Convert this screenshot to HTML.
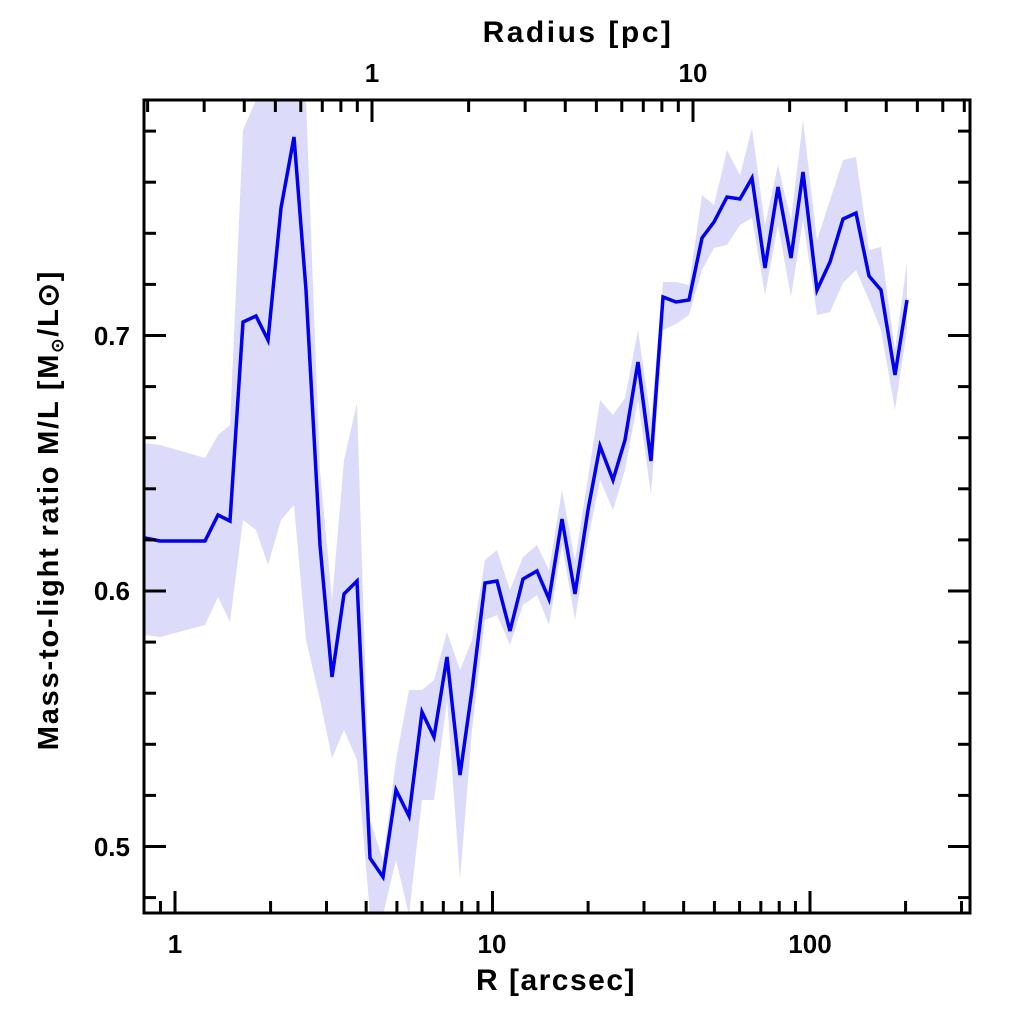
<!DOCTYPE html>
<html><head><meta charset="utf-8"><style>html,body{margin:0;padding:0;background:#fff}svg{display:block}</style></head>
<body>
<svg id="s" width="1024" height="1024" xmlns="http://www.w3.org/2000/svg" font-family="Liberation Sans, sans-serif" font-weight="bold">
<defs><clipPath id="c"><rect x="144" y="100" width="826" height="813"/></clipPath></defs>
<g id="plot" clip-path="url(#c)"></g>
<g id="ax" stroke="#000" stroke-width="3" fill="none"></g>
<rect x="144" y="100" width="826" height="813" fill="none" stroke="#000" stroke-width="3"/>
<g font-size="26" fill="#000" text-anchor="middle">
<text x="175" y="953">1</text>
<text x="492" y="953">10</text>
<text x="810" y="953">100</text>
<text x="556" y="990" font-size="30" letter-spacing="1.5">R [arcsec]</text>
<text x="372" y="82">1</text>
<text x="693" y="82">10</text>
<text x="578" y="42" font-size="30" letter-spacing="2.5">Radius [pc]</text>
<text x="130" y="345" text-anchor="end">0.7</text>
<text x="130" y="600" text-anchor="end">0.6</text>
<text x="130" y="856" text-anchor="end">0.5</text>
<text transform="translate(58,510) rotate(-90)" font-size="29" letter-spacing="1.8">Mass-to-light ratio M/L [M<tspan font-size="17" dy="5">⊙</tspan><tspan dy="-5">/L⊙]</tspan></text>
</g>
</svg>
<script>
var L=[[145,538],[160,541],[205,541],[218,515],[230,521],[243,322],[256,316],[268,340],[281,208],[294,137],[306,290],[320,545],[332,677],[344,594],[357,581],[370,858],[383,877],[396,790],[409,816],[422,712],[434,737],[447,657],[460,775],[472,690],[485,583],[497,581],[510,631],[523,579],[537,571],[549,599],[562,519],[575,594],[588,510],[600,446],[613,480],[625,440],[638,362],[651,461],[663,297],[676,302],[689,300],[702,238],[714,222],[727,197],[740,199],[752,178],[765,268],[778,187],[791,258],[803,172],[817,290],[830,262],[843,219],[856,213],[869,276],[881,290],[895,375],[907,300]];
var U={145:443,160:445,190:458,205:458,218:435,230:425,243:130,256:100,268:100,281:100,294:100,306:100,320:470,332:600,344:460,357:403,370:820,383:860,396:760,409:690,422:690,434:680,447:632,460:670,472:640,485:560,497:550,510:590,523:557,537:545,549:570,562:490,575:560,588:478,600:400,613:415,625:398,638:330,651:420,663:282,676:282,689:285,702:195,714:205,727:150,740:175,752:128,765:225,778:165,791:220,803:120,817:240,830:200,843:160,856:157,869:250,881:247,895:350,907:262};
var D={145:635,160:637,190:627,205:625,218:597,230:622,243:520,256:530,268:565,281:520,294:505,306:640,320:700,332:758,344:730,357:760,370:915,383:915,396:860,409:915,422:800,434:800,447:700,460:880,472:730,485:620,497:615,510:645,523:605,537:595,549:625,562:545,575:620,588:540,600:480,613:510,625:470,638:400,651:495,663:330,676:324,689:315,702:270,714:248,727:245,740:225,752:218,765:295,778:225,791:297,803:220,817:315,830:312,843:283,856:270,869:300,881:330,895:410,907:330};
var ns="http://www.w3.org/2000/svg";
function el(t,a,p){var e=document.createElementNS(ns,t);for(var k in a)e.setAttribute(k,a[k]);p.appendChild(e);return e;}
var up=L.map(function(p){return p[0]+","+(U[p[0]]!==undefined?U[p[0]]:p[1]-20)});
var lo=L.slice().reverse().map(function(p){return p[0]+","+(D[p[0]]!==undefined?D[p[0]]:p[1]+20)});
var g=document.getElementById("plot");
el("polygon",{points:up.concat(lo).join(" "),fill:"#dcdcfa"},g);
el("polyline",{points:L.map(function(p){return p.join(",")}).join(" "),fill:"none",stroke:"#0000ee","stroke-width":3.5,"stroke-linejoin":"miter"},g);
var a=document.getElementById("ax");
function ln(x1,y1,x2,y2){el("line",{x1:x1,y1:y1,x2:x2,y2:y2},a);}
var x0=175,dec=317.5;
for(var d=-1;d<3;d++)for(var k=1;k<10;k++){var x=x0+dec*(d+Math.log10(k));if(x<145||x>969)continue;var h=k==1?22:12;ln(x,913,x,913-h);}
var t0=372,td=321;
for(var d=-1;d<2;d++)for(var k=1;k<10;k++){var x=t0+td*(d+Math.log10(k));if(x<145||x>969)continue;var h=k==1?22:12;ln(x,100,x,100+h);}
for(var v=0.48;v<0.80;v+=0.02){var y=591-(v-0.6)*2555;if(y<101||y>912)continue;var maj=Math.abs(Math.round(v*10)-v*10)<0.01;var h=maj?22:12;ln(144,y,144+h,y);ln(970,y,970-h,y);}
</script>
</body></html>
